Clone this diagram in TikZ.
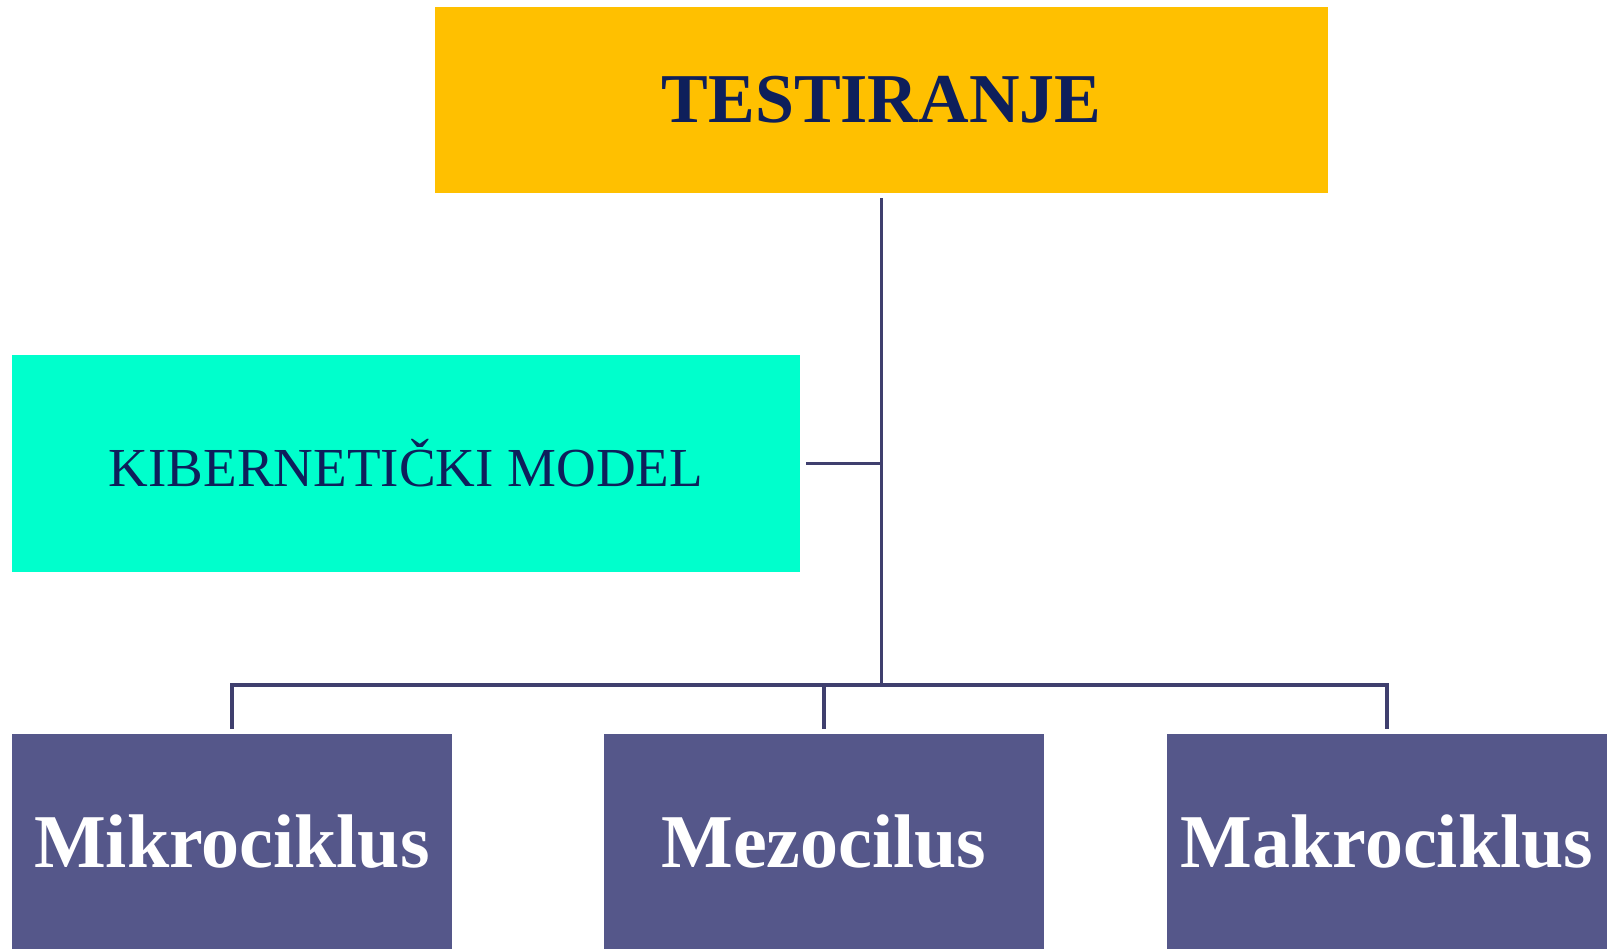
\documentclass[tikz,border=0pt]{standalone}
\usepackage{fontspec}
\setmainfont{Liberation Serif}
\usepackage{tikz}
\usetikzlibrary{positioning,calc}
\definecolor{testgold}{RGB}{255,192,0}
\definecolor{modelcyan}{RGB}{0,255,204}
\definecolor{cycleblue}{RGB}{85,87,138}
\definecolor{textnavy}{RGB}{14,31,91}
\definecolor{linenavy}{RGB}{63,63,110}
\tikzset{
    topbox/.style={rectangle, inner sep=0pt, fill=#1,
                   minimum width=893pt, minimum height=186pt,
                   text=textnavy, font=\fontsize{70}{80}\selectfont\bfseries},
    modelbox/.style={rectangle, inner sep=0pt, fill=#1,
                     minimum width=788pt, minimum height=217pt,
                     text=textnavy, font=\fontsize{55}{62}\selectfont},
    cyclebox/.style={rectangle, inner sep=0pt, fill=#1,
                     minimum width=440pt, minimum height=215pt,
                     text=white, font=\fontsize{76}{84}\selectfont\bfseries},
}

\begin{document}
\begin{tikzpicture}[
    x=1pt, y=-1pt,
    conn/.style={line width=3.5pt, linenavy}
]
    \useasboundingbox (0,0) rectangle (1610,949);

    \node[topbox=testgold] (test) at (881.5,100) {TESTIRANJE};
    \node[modelbox=modelcyan] (kiber) at (406,463.5) {KIBERNETIČKI MODEL};
    \node[cyclebox=cycleblue] (mikro) at (232,841.5) {Mikrociklus};
    \node[cyclebox=cycleblue] (mezo) at (824,841.5) {Mezocilus};
    \node[cyclebox=cycleblue] (makro) at (1387,841.5) {Makrociklus};

    \coordinate (bus) at (test.south |- 0,685);

    \draw[conn, shorten <=5pt] (test.south) -- (bus);
    \draw[conn, shorten <=6pt] (kiber.east) -- (kiber.east -| bus);
    \draw[conn] (bus) -| ([yshift=5pt]mikro.north);
    \draw[conn] (bus) -| ([yshift=5pt]makro.north);
    \draw[conn] (bus -| mezo.north) -- ([yshift=5pt]mezo.north);
\end{tikzpicture}
\end{document}
